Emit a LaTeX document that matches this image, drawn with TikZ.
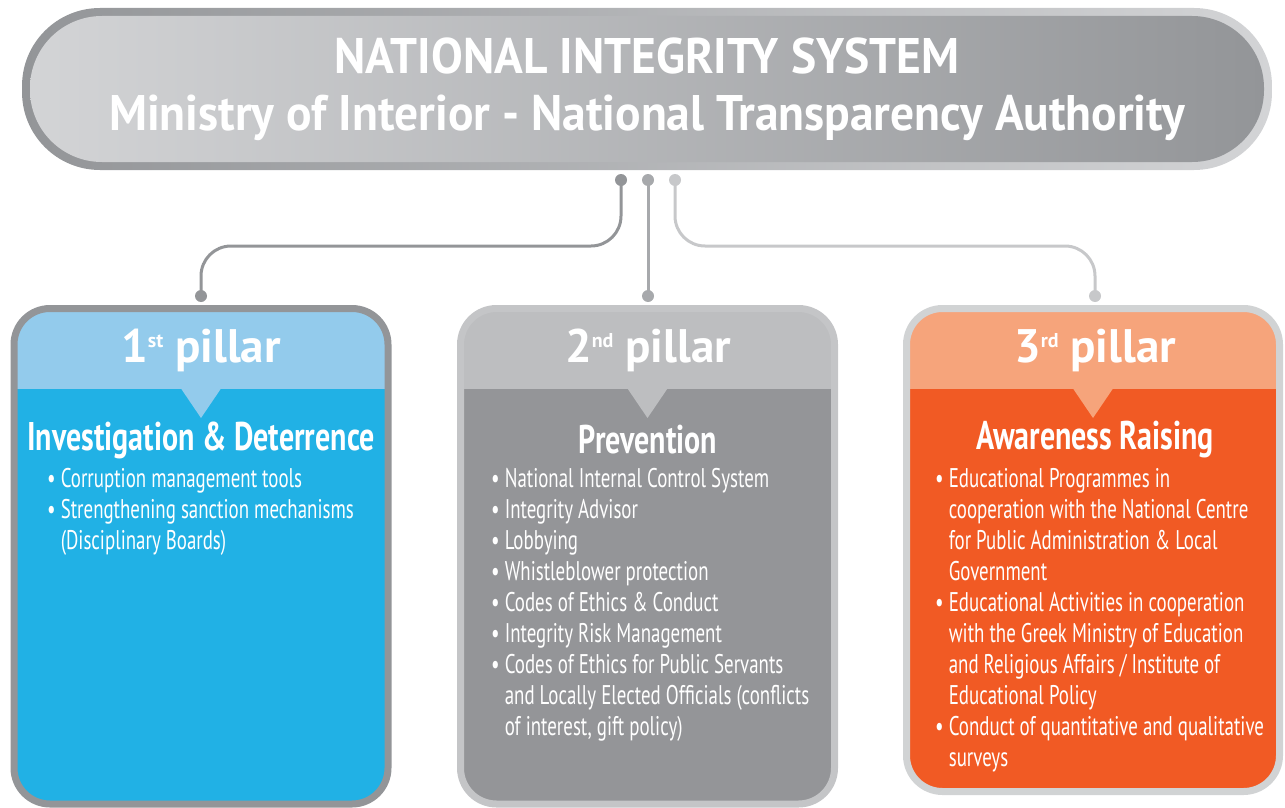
\documentclass[tikz,border=0pt]{standalone}
\usepackage{fontspec}
\setmainfont{PT Sans}
\newfontfamily\bannerfont{PT Sans}[FakeStretch=0.95]
\newfontfamily\condfont{PT Sans}[FakeStretch=0.70]
\newfontfamily\headingfont{PT Sans}[FakeStretch=0.75]
\usetikzlibrary{calc}
\definecolor{nisDark}{HTML}{939598}
\definecolor{nisLight}{HTML}{D3D4D6}
\definecolor{linkMid}{HTML}{A7A9AC}
\definecolor{linkLight}{HTML}{C7C8CA}
\definecolor{blueHead}{HTML}{93CBEC}
\definecolor{blueBody}{HTML}{21B1E5}
\definecolor{greyRim}{HTML}{C4C5C7}
\definecolor{greyHead}{HTML}{BDBEC0}
\definecolor{greyBody}{HTML}{949598}
\definecolor{orangeRim}{HTML}{D1D3D4}
\definecolor{orangeHead}{HTML}{F6A47B}
\definecolor{orangeBody}{HTML}{F15A24}
\newcommand{\ord}[1]{\raisebox{15pt}{\fontsize{20}{20}\selectfont #1}}
\begin{document}
\begin{tikzpicture}
[x=1pt, y=-1pt,
  linkLine/.style={line width=3pt, rounded corners=30pt, draw=#1},%
  dotDecorate/.style={shape=circle, inner sep=0pt, minimum size=12pt, fill=#1},%
  pillarBox/.style 2 args={shape=rectangle, rounded corners=36pt, line width=7pt,
    draw=#1, fill=#2, inner sep=0pt, minimum width=374pt},%
  pillarHead/.style={path picture={
    \fill[#1, sharp corners] (path picture bounding box.north west) rectangle
      ($(path picture bounding box.north east)+(0,80.5)$);
    \fill[#1, sharp corners] ($(path picture bounding box.north)+(-20,80)$)
      -- ($(path picture bounding box.north)+(0,109.5)$)
      -- ($(path picture bounding box.north)+(20,80)$) -- cycle;}},%
  pillarTitle/.style={text=white, inner sep=0pt, font=\bfseries\fontsize{47}{50}\selectfont},%
  pillarHeading/.style={text=white, inner sep=0pt, font=\headingfont\bfseries\fontsize{40}{44}\selectfont},%
  bulletText/.style={text=white, inner sep=0pt, align=left, anchor=north west,
    font=\condfont\fontsize{27}{31}\selectfont}]
\useasboundingbox (0,0) rectangle (1285,808);
%% banner
\node (nisRim) at (647,89) [shape=rectangle, rounded corners=78pt, minimum width=1250pt,
  minimum height=162pt, left color=nisDark, right color=nisLight] {};
\node (nis) at (647,89) [shape=rectangle, rounded corners=72pt, minimum width=1234pt,
  minimum height=146pt, left color=nisLight, right color=nisDark, text=white,
  align=center, font=\bannerfont\bfseries\fontsize{50}{57}\selectfont]
  {NATIONAL INTEGRITY SYSTEM\\Ministry of Interior - National Transparency Authority};
%% dots
\foreach \dotname/\x/\y/\c in {top1/621/180/nisDark, top2/648/180/linkMid, top3/675/180/linkLight,
  bot1/201/296/nisDark, bot2/648/296/linkMid, bot3/1095/296/linkLight}
{
  \node (\dotname) at (\x,\y) [dotDecorate=\c] {};
}
\coordinate (bend) at (0,246);
%% links
\draw[linkLine=nisDark] (top1.center) -- (top1 |- bend) -- (bot1 |- bend) -- (bot1.center);
\draw[linkLine=linkMid] (top2.center) -- (bot2.center);
\draw[linkLine=linkLight] (top3.center) -- (top3 |- bend) -- (bot3 |- bend) -- (bot3.center);
%% pillars
\node (p1) at (201,556.25) [pillarBox={nisDark}{blueBody}, pillarHead=blueHead, minimum height=495.5pt] {};
\node (p2) at (647.5,556.25) [pillarBox={greyRim}{greyBody}, pillarHead=greyHead, minimum height=495.5pt] {};
\node (p3) at (1093,550) [pillarBox={orangeRim}{orangeBody}, pillarHead=orangeHead, minimum height=483pt, minimum width=373pt] {};
%% 1st pillar
\node (t1) at (201,350) [pillarTitle] {1\ord{st} pillar};
\node (h1) at (201,440) [pillarHeading] {Investigation \& Deterrence};
\node (l1) at (47,468) [bulletText] {\textbullet~Corruption management tools\\
  \textbullet~Strengthening sanction mechanisms\\
  \phantom{\textbullet~}(Disciplinary Boards)};
%% 2nd pillar
\node (t2) at (648,350) [pillarTitle] {2\ord{nd} pillar};
\node (h2) at (648,440) [pillarHeading] {Prevention};
\node (l2) at (491,468) [bulletText] {\textbullet~National Internal Control System\\
  \textbullet~Integrity Advisor\\
  \textbullet~Lobbying\\
  \textbullet~Whistleblower protection\\
  \textbullet~Codes of Ethics \& Conduct\\
  \textbullet~Integrity Risk Management\\
  \textbullet~Codes of Ethics for Public Servants\\
  \phantom{\textbullet~}and Locally Elected Officials (conflicts\\
  \phantom{\textbullet~}of interest, gift policy)};
%% 3rd pillar
\node (t3) at (1095,350) [pillarTitle] {3\ord{rd} pillar};
\node (h3) at (1095,440) [pillarHeading] {Awareness Raising};
\node (l3) at (935,468) [bulletText] {\textbullet~Educational Programmes in\\
  \phantom{\textbullet~}cooperation with the National Centre\\
  \phantom{\textbullet~}for Public Administration \& Local\\
  \phantom{\textbullet~}Government\\
  \textbullet~Educational Activities in cooperation\\
  \phantom{\textbullet~}with the Greek Ministry of Education\\
  \phantom{\textbullet~}and Religious Affairs / Institute of\\
  \phantom{\textbullet~}Educational Policy\\
  \textbullet~Conduct of quantitative and qualitative\\
  \phantom{\textbullet~}surveys};
\end{tikzpicture}
\end{document}
